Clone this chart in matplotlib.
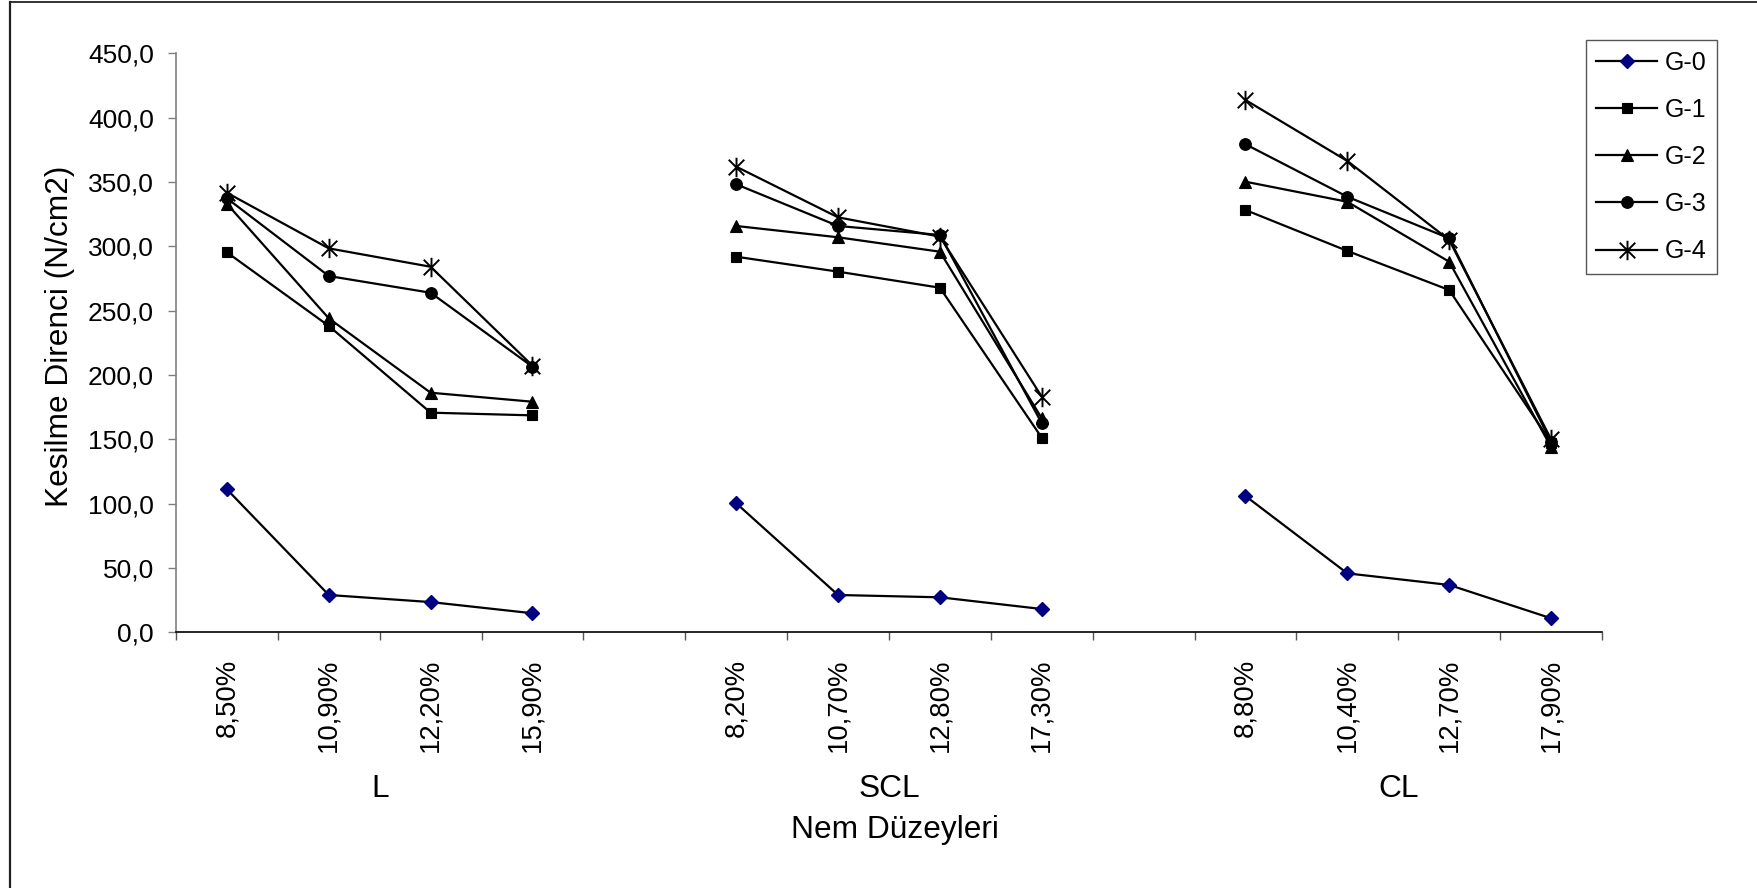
import numpy as np
import matplotlib
matplotlib.use("Agg")
import matplotlib.pyplot as plt
from matplotlib.path import Path
from matplotlib.lines import Line2D

plt.rcParams['font.family'] = ['Liberation Sans', 'DejaVu Sans']

# ---- data ----
groups = ["L", "SCL", "CL"]
moisture_L = ["8,50%", "10,90%", "12,20%", "15,90%"]
moisture_SCL = ["8,20%", "10,70%", "12,80%", "17,30%"]
moisture_CL = ["8,80%", "10,40%", "12,70%", "17,90%"]

series_names = ["G-0", "G-1", "G-2", "G-3", "G-4"]
G0 = [111.1, 29.0, 23.5, 14.8, 100.3, 29.0, 27.2, 18.1, 105.9, 45.8, 36.8, 10.9]
G1 = [295.3, 238.1, 170.7, 168.6, 291.9, 280.3, 267.8, 151.2, 328.2, 296.4, 266.0, 147.5]
G2 = [333.0, 244.0, 186.2, 179.2, 315.8, 307.0, 295.8, 166.3, 350.2, 334.6, 288.0, 144.0]
G3 = [337.3, 276.9, 263.9, 206.4, 348.2, 315.8, 308.8, 162.4, 379.3, 338.5, 306.2, 148.0]
G4 = [341.6, 298.4, 284.1, 207.2, 361.9, 322.5, 307.5, 183.1, 413.7, 366.3, 304.9, 150.0]

# categories with a blank slot between groups
categories = moisture_L + [""] + moisture_SCL + [""] + moisture_CL
slots = [i for i, c in enumerate(categories) if c != ""]


def expand(vals):
    out = np.full(len(categories), np.nan)
    out[slots] = vals
    return out


# ---- styles ----
star = Path([(0, 1), (0, -1), (-0.8, 0.8), (0.8, -0.8), (-0.8, -0.8), (0.8, 0.8)],
            [Path.MOVETO, Path.LINETO, Path.MOVETO, Path.LINETO, Path.MOVETO, Path.LINETO])
styles = [
    dict(marker='D', ms=6.8, mfc='#000080', mec='#000080', mew=1.0),
    dict(marker='s', ms=7.8, mfc='black', mec='black', mew=0.8),
    dict(marker='^', ms=9.2, mfc='black', mec='black', mew=0.8),
    dict(marker='o', ms=8.4, mfc='black', mec='black', mew=0.8),
    dict(marker=star, ms=14.0, mfc='none', mec='black', mew=1.4),
]

W, H = 1758, 888
fig = plt.figure(figsize=(W / 100, H / 100), dpi=100)
ax = fig.add_axes([176 / W, 1 - 632.3 / H, (1602 - 176) / W, (632.3 - 53.3) / H])

x = np.arange(len(categories))
for name, vals, st in zip(series_names, [G0, G1, G2, G3, G4], styles):
    ax.plot(x, expand(vals), color='black', lw=1.6, label=name, **st)

ax.set_xlim(-0.5, len(categories) - 0.5)
ax.set_ylim(0, 450)
ax.set_yticks(np.arange(0, 451, 50))
ax.set_yticklabels([f"{v:.1f}".replace('.', ',') for v in np.arange(0, 451, 50)])

# x ticks at category boundaries, labels at centres
ax.set_xticks(np.arange(-0.5, len(categories), 1.0))
ax.set_xticklabels([])
ax.set_xticks(x, minor=True)
ax.set_xticklabels(categories, minor=True, rotation=90)
ax.tick_params(axis='x', which='minor', length=0, pad=19, labelsize=19.8)
ax.tick_params(axis='x', which='major', length=6, width=1, color='#555555', direction='out')
ax.tick_params(axis='y', length=6, width=1, color='#808080', direction='out', pad=10, labelsize=19)

for s in ['top', 'right']:
    ax.spines[s].set_visible(False)
ax.spines['left'].set_color('#808080')
ax.spines['left'].set_linewidth(1.2)
ax.spines['bottom'].set_color('black')
ax.spines['bottom'].set_linewidth(1.2)

# group labels
group_centres = [np.mean(slots[i * 4:(i + 1) * 4]) for i in range(len(groups))]
tr = matplotlib.transforms.blended_transform_factory(ax.transData, fig.transFigure)
for g, c in zip(groups, group_centres):
    ax.text(c, 1 - 789 / H, g, transform=tr, ha='center', va='center', fontsize=22.8)
fig.text(895 / W, 1 - 830 / H, "Nem Düzeyleri", ha='center', va='center', fontsize=22.8)
fig.text(60 / W, 1 - 336 / H, "Kesilme Direnci (N/cm2)", rotation=90,
         ha='center', va='center', fontsize=22.8)

leg = ax.legend(loc='upper left', bbox_to_anchor=(1586 / W, 1 - 40 / H),
                bbox_transform=fig.transFigure, fontsize=18, frameon=True,
                fancybox=False, shadow=False, framealpha=1, handlelength=2.44,
                labelspacing=0.93, borderpad=0.42, handletextpad=0.28, borderaxespad=0)
leg.get_frame().set_edgecolor('#555555')
leg.get_frame().set_linewidth(1.0)

# figure border (left and top)
fig.add_artist(Line2D([10 / W, 10 / W], [0, 1 - 2 / H], transform=fig.transFigure,
                      color='#222222', lw=1.6))
fig.add_artist(Line2D([10 / W, 1], [1 - 2 / H, 1 - 2 / H], transform=fig.transFigure,
                      color='#222222', lw=1.3))

fig.savefig("out.png", dpi=100)
